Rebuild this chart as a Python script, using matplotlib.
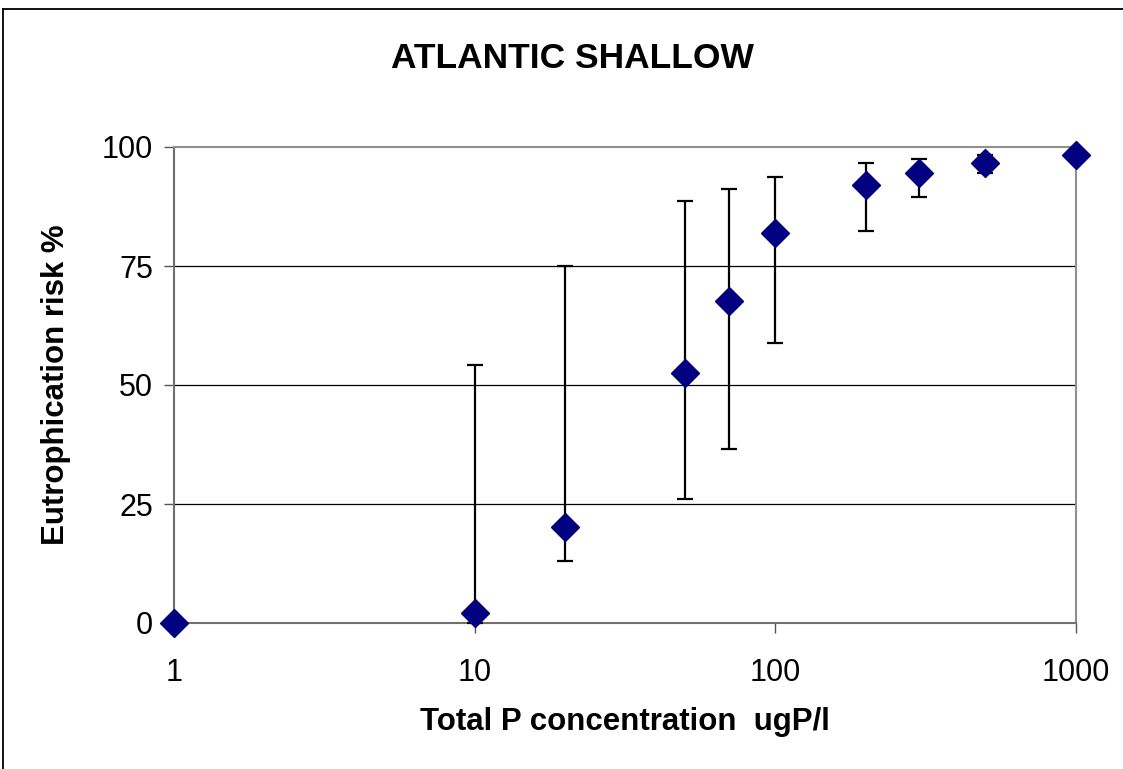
import matplotlib.pyplot as plt
from matplotlib.lines import Line2D

plt.rcParams["font.family"] = ["Liberation Sans", "DejaVu Sans"]

# Total P concentration (ugP/l) and risk (%) with lower/upper bounds
TOTAL_P = [1, 10, 20, 50, 70, 100, 200, 300, 500, 1000]
RISK = [0.0, 2.0, 20.2, 52.5, 67.6, 81.9, 92.0, 94.5, 96.6, 98.3]
RISK_LOW = [0.0, 0.0, 13.0, 26.0, 36.5, 58.8, 82.4, 89.4, 94.5, 98.3]
RISK_HIGH = [0.0, 54.2, 75.0, 88.7, 91.1, 93.6, 96.6, 97.5, 98.3, 98.3]

Y_TICKS = [0, 25, 50, 75, 100]
X_TICKS = [1, 10, 100, 1000]


def main():
    fig = plt.figure(figsize=(11.23, 7.69), dpi=100)
    W, H = 1123, 769
    ax = fig.add_axes([174 / W, 1 - 623 / H, (1076 - 174) / W, (623 - 147) / H])

    # outer chart border: only top and left edges are visible in the reference
    x0, y0 = 3 / W, 1 - 9 / H
    fig.lines.append(Line2D([x0, 1.0], [y0, y0], transform=fig.transFigure,
                            color="black", linewidth=1.3))
    fig.lines.append(Line2D([x0, x0], [0.0, y0], transform=fig.transFigure,
                            color="black", linewidth=1.3))

    lower = [r - lo for r, lo in zip(RISK, RISK_LOW)]
    upper = [hi - r for r, hi in zip(RISK, RISK_HIGH)]
    ax.errorbar(TOTAL_P, RISK, yerr=[lower, upper], fmt="none",
                ecolor="black", elinewidth=1.6, capsize=5.5, capthick=1.6,
                zorder=3, clip_on=False)
    ax.plot(TOTAL_P, RISK, linestyle="none", marker="D", markersize=14.5,
            color="#000080", zorder=4, clip_on=False)

    ax.set_xscale("log")
    ax.set_xlim(1, 1000)
    ax.set_ylim(0, 100)
    ax.set_xticks(X_TICKS)
    ax.set_xticklabels([str(t) for t in X_TICKS])
    ax.xaxis.set_minor_locator(plt.NullLocator())
    ax.set_yticks(Y_TICKS)
    ax.tick_params(axis="both", labelsize=22, length=7, width=1,
                   color="#555555", direction="out")
    ax.tick_params(axis="x", pad=18)
    ax.tick_params(axis="y", pad=8)

    for y in Y_TICKS[1:-1]:
        ax.axhline(y, color="black", linewidth=0.9, zorder=1)

    for side in ["top", "right"]:
        ax.spines[side].set_color("#909090")
        ax.spines[side].set_linewidth(1.5)
    for side in ["left", "bottom"]:
        ax.spines[side].set_color("#707070")
        ax.spines[side].set_linewidth(1.5)

    ax.set_xlabel("Total P concentration  ugP/l", fontsize=22.5,
                  fontweight="bold", labelpad=14)
    ax.set_ylabel("Eutrophication risk %", fontsize=22.5,
                  fontweight="bold", labelpad=22)
    fig.text(572 / W, 1 - 58 / H, "ATLANTIC SHALLOW", fontsize=25.5,
             fontweight="bold", ha="center", va="center")

    fig.savefig("out.png", dpi=100)
    plt.close(fig)


if __name__ == "__main__":
    main()
